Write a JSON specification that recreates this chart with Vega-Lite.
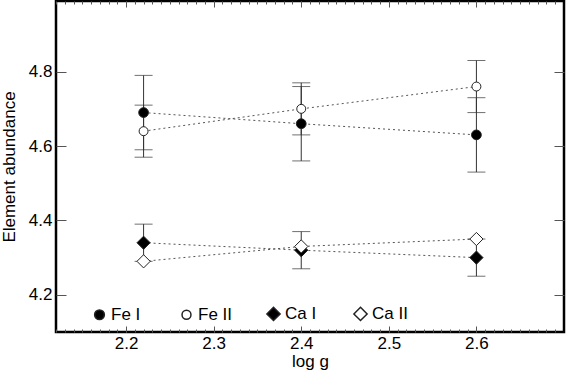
{
  "$schema": "https://vega.github.io/schema/vega-lite/v6.json",
  "width": 508,
  "height": 331,
  "autosize": "none",
  "padding": {"left": 56, "top": 1, "right": 3, "bottom": 46},
  "background": "white",
  "config": {
    "font": "Liberation Sans",
    "view": {"stroke": "black", "strokeWidth": 2.5},
    "axis": {
      "domain": false,
      "grid": false,
      "labelFont": "Liberation Sans",
      "labelFontSize": 17,
      "labelColor": "black",
      "titleFont": "Liberation Sans",
      "titleFontSize": 17,
      "titleFontWeight": "normal",
      "titleColor": "black",
      "tickColor": "#555",
      "tickWidth": 1
    },
    "legend": {
      "labelFont": "Liberation Sans",
      "labelFontSize": 17,
      "labelColor": "black"
    }
  },
  "data": {
    "values": [
      {"logg": 2.22, "value": 4.69, "lo": 4.59, "hi": 4.79, "species": "Fe I"},
      {"logg": 2.4, "value": 4.66, "lo": 4.56, "hi": 4.76, "species": "Fe I"},
      {"logg": 2.6, "value": 4.63, "lo": 4.53, "hi": 4.73, "species": "Fe I"},
      {"logg": 2.22, "value": 4.64, "lo": 4.57, "hi": 4.71, "species": "Fe II"},
      {"logg": 2.4, "value": 4.70, "lo": 4.63, "hi": 4.77, "species": "Fe II"},
      {"logg": 2.6, "value": 4.76, "lo": 4.69, "hi": 4.83, "species": "Fe II"},
      {"logg": 2.22, "value": 4.34, "lo": 4.29, "hi": 4.39, "species": "Ca I"},
      {"logg": 2.4, "value": 4.32, "lo": 4.27, "hi": 4.37, "species": "Ca I"},
      {"logg": 2.6, "value": 4.30, "lo": 4.25, "hi": 4.35, "species": "Ca I"},
      {"logg": 2.22, "value": 4.29, "lo": null, "hi": null, "species": "Ca II"},
      {"logg": 2.4, "value": 4.33, "lo": null, "hi": null, "species": "Ca II"},
      {"logg": 2.6, "value": 4.35, "lo": null, "hi": null, "species": "Ca II"}
    ]
  },
  "layer": [
    {
      "mark": {"type": "line", "color": "#555", "strokeWidth": 1, "strokeDash": [2, 3]},
      "encoding": {
        "x": {"field": "logg", "type": "quantitative",
          "scale": {"domain": [2.12, 2.70], "nice": false, "zero": false},
          "axis": {"orient": "top", "title": null, "labels": false, "tickSize": -3,
            "values": [2.12,2.13,2.14,2.15,2.16,2.17,2.18,2.19,2.2,2.21,2.22,2.23,2.24,2.25,2.26,2.27,2.28,2.29,2.3,2.31,2.32,2.33,2.34,2.35,2.36,2.37,2.38,2.39,2.4,2.41,2.42,2.43,2.44,2.45,2.46,2.47,2.48,2.49,2.5,2.51,2.52,2.53,2.54,2.55,2.56,2.57,2.58,2.59,2.6,2.61,2.62,2.63,2.64,2.65,2.66,2.67,2.68,2.69]}},
        "y": {"field": "value", "type": "quantitative",
          "scale": {"domain": [4.1, 4.99], "nice": false, "zero": false},
          "axis": null},
        "detail": {"field": "species"}
      }
    },
    {
      "transform": [{"filter": "datum.lo != null"}],
      "mark": {"type": "rule", "color": "#333", "strokeWidth": 1},
      "encoding": {
        "x": {"field": "logg", "type": "quantitative",
          "axis": {"orient": "bottom", "title": "log g", "values": [2.2, 2.3, 2.4, 2.5, 2.6], "format": ".1f", "tickSize": -6, "labelPadding": 9, "titlePadding": 2}},
        "y": {"field": "lo", "type": "quantitative",
          "axis": {"orient": "left", "title": "Element abundance", "values": [4.2, 4.4, 4.6, 4.8], "format": ".1f", "tickSize": -10, "labelPadding": 14, "titlePadding": 10}},
        "y2": {"field": "hi"}
      }
    },
    {
      "transform": [{"filter": "datum.lo != null"}, {"fold": ["lo", "hi"], "as": ["end", "bound"]}],
      "mark": {"type": "tick", "orient": "horizontal", "color": "#333", "size": 18, "thickness": 1},
      "encoding": {
        "x": {"field": "logg", "type": "quantitative",
          "axis": {"orient": "bottom", "title": null, "labels": false, "tickSize": -3,
            "values": [2.12,2.13,2.14,2.15,2.16,2.17,2.18,2.19,2.2,2.21,2.22,2.23,2.24,2.25,2.26,2.27,2.28,2.29,2.3,2.31,2.32,2.33,2.34,2.35,2.36,2.37,2.38,2.39,2.4,2.41,2.42,2.43,2.44,2.45,2.46,2.47,2.48,2.49,2.5,2.51,2.52,2.53,2.54,2.55,2.56,2.57,2.58,2.59,2.6,2.61,2.62,2.63,2.64,2.65,2.66,2.67,2.68,2.69]}},
        "y": {"field": "bound", "type": "quantitative",
          "axis": {"orient": "right", "title": null, "labels": false, "tickSize": -10, "values": [4.2, 4.4, 4.6, 4.8]}}
      }
    },
    {
      "mark": {"type": "point", "filled": true, "stroke": "#222", "strokeWidth": 1, "opacity": 1},
      "encoding": {
        "x": {"field": "logg", "type": "quantitative",
          "axis": {"orient": "top", "title": null, "labels": false, "tickSize": -6, "values": [2.2, 2.3, 2.4, 2.5, 2.6]}},
        "y": {"field": "value", "type": "quantitative", "axis": null},
        "shape": {"field": "species", "type": "nominal",
          "scale": {"domain": ["Fe I", "Fe II", "Ca I", "Ca II"], "range": ["circle", "circle", "diamond", "diamond"]},
          "legend": {"title": null, "orient": "none", "legendX": 35, "legendY": 304, "direction": "horizontal", "columns": 4, "gridAlign": "all", "columnPadding": 29, "labelOffset": 3,
            "encode": {"symbols": {"update": {"stroke": {"value": "#222"}, "strokeWidth": {"value": 1}}}}}},
        "fill": {"field": "species", "type": "nominal",
          "scale": {"domain": ["Fe I", "Fe II", "Ca I", "Ca II"], "range": ["black", "white", "black", "white"]},
          "legend": {"title": null, "orient": "none", "legendX": 35, "legendY": 304, "direction": "horizontal", "columns": 4, "gridAlign": "all", "columnPadding": 29, "labelOffset": 3,
            "encode": {"symbols": {"update": {"stroke": {"value": "#222"}, "strokeWidth": {"value": 1}}}}}},
        "size": {"field": "species", "type": "nominal",
          "scale": {"type": "ordinal", "domain": ["Fe I", "Fe II", "Ca I", "Ca II"], "range": [95, 80, 175, 175]},
          "legend": {"title": null, "orient": "none", "legendX": 35, "legendY": 304, "direction": "horizontal", "columns": 4, "gridAlign": "all", "columnPadding": 29, "labelOffset": 3,
            "encode": {"symbols": {"update": {"stroke": {"value": "#222"}, "strokeWidth": {"value": 1}}}}}}
      }
    }
  ],
  "resolve": {"axis": {"x": "independent", "y": "independent"}}
}
